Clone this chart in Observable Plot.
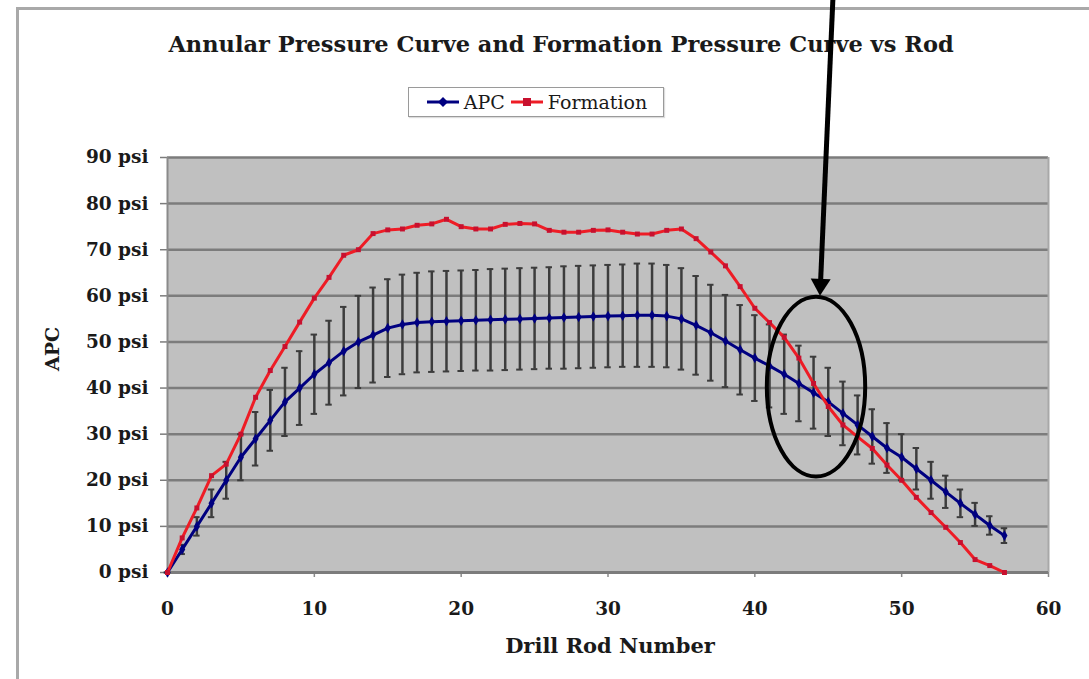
<!DOCTYPE html>
<html>
<head>
<meta charset="utf-8">
<script src="https://cdn.jsdelivr.net/npm/d3@7"></script>
<script src="https://cdn.jsdelivr.net/npm/@observablehq/plot@0.6"></script>
<style>
  html, body { margin: 0; padding: 0; background: #fff; }
  #wrap { position: relative; width: 1089px; height: 679px; overflow: hidden; font-family: "DejaVu Serif", serif; }
  #outer { position: absolute; left: 16px; top: 7px; width: 1200px; height: 800px; border-left: 3px solid #a9a9a9; border-top: 3px solid #a9a9a9; }
  #title { position: absolute; left: 111px; width: 900px; top: 31px; text-align: center; font-weight: bold; font-size: 22.5px; color: #1a1a1a; white-space: nowrap; }
  #legend { position: absolute; left: 408px; top: 87px; width: 254px; height: 28px; border: 1px solid #9a9a9a; background: #fff; display: flex; align-items: center; justify-content: center; gap: 4px; font-family: "DejaVu Serif", serif; font-size: 19px; color: #1a1a1a; box-shadow: 1px 1px 1px #ddd; }
  #legend .item { display: flex; align-items: center; gap: 3px; }
  #plot { position: absolute; left: 0; top: 0; }
</style>
</head>
<body>
<div id="wrap">
  <div id="outer"></div>
  <div id="title">Annular Pressure Curve and Formation Pressure Curve vs Rod</div>
  <div id="legend"></div>
  <div id="plot"></div>
</div>
<script>
// ---- data ----
const rods = [0,1,2,3,4,5,6,7,8,9,10,11,12,13,14,15,16,17,18,19,20,21,22,23,24,25,26,27,28,29,30,31,32,33,34,35,36,37,38,39,40,41,42,43,44,45,46,47,48,49,50,51,52,53,54,55,56,57];
const apc = [0,5,10,15,20,25,29,33,37,40,43,45.5,48,50,51.5,53,53.8,54.2,54.4,54.5,54.6,54.7,54.8,54.9,55,55.1,55.2,55.3,55.4,55.5,55.6,55.7,55.8,55.8,55.6,55,53.6,52,50.2,48.3,46.5,44.8,43,41,39,37,34.5,32,29.5,27,25,22.5,20,17.5,15,12.6,10.2,8];
const apcError = [0,1,2,3,4,5,5.8,6.6,7.4,8,8.6,9.1,9.6,10,10.3,10.6,10.8,10.8,10.9,10.9,10.9,10.9,11,11,11,11,11,11.1,11.1,11.1,11.1,11.1,11.2,11.2,11.1,11,10.7,10.4,10,9.7,9.3,9,8.6,8.2,7.8,7.4,6.9,6.4,5.9,5.4,5,4.5,4,3.5,3,2.5,2,1.6];
const formation = [0,7.5,14,21,23.5,30,38,43.8,49,54.3,59.5,64,68.8,70,73.5,74.3,74.5,75.3,75.6,76.6,75,74.5,74.5,75.5,75.7,75.6,74.2,73.8,73.8,74.2,74.3,73.8,73.4,73.4,74.2,74.5,72.4,69.5,66.5,62,57.3,54.2,51,46.5,41,36,32,29.4,26.9,23.3,20,16.3,13,9.8,6.5,2.8,1.5,0];
const xTicks = [0,10,20,30,40,50,60];
const yTicks = [0,10,20,30,40,50,60,70,80,90];
const seriesNames = ["APC", "Formation"];
const seriesColors = ["#000080", "#ee1c25"];
// annotation (in data units)
const ellipseNote = {x: 44.2, y: 40.2, rx: 3.35, ry: 19.5};
const arrowNote = {x1: 45.36, y1: 125, x2: 44.47, y2: 59.9};

const apcRows = rods.map((r, i) => ({rod: r, value: apc[i], lo: apc[i] - apcError[i], hi: apc[i] + apcError[i]}));
const formRows = rods.map((r, i) => ({rod: r, value: formation[i]}));

function annotationMark(index, scales, values, dimensions) {
  const ns = "http://www.w3.org/2000/svg";
  const g = document.createElementNS(ns, "g");
  const cx = scales.x(ellipseNote.x), cy = scales.y(ellipseNote.y);
  const rx = Math.abs(scales.x(ellipseNote.x + ellipseNote.rx) - cx);
  const ry = Math.abs(scales.y(ellipseNote.y + ellipseNote.ry) - cy);
  const el = document.createElementNS(ns, "ellipse");
  el.setAttribute("cx", cx); el.setAttribute("cy", cy);
  el.setAttribute("rx", rx); el.setAttribute("ry", ry);
  el.setAttribute("fill", "none"); el.setAttribute("stroke", "#000"); el.setAttribute("stroke-width", 4);
  g.appendChild(el);
  const x1 = scales.x(arrowNote.x1), y1 = scales.y(arrowNote.y1);
  const x2 = scales.x(arrowNote.x2), y2 = scales.y(arrowNote.y2);
  const dx = x2 - x1, dy = y2 - y1, len = Math.hypot(dx, dy);
  const ux = dx / len, uy = dy / len, px = -uy, py = ux;
  const hl = 17, hw = 10;
  const bx = x2 - ux * hl, by = y2 - uy * hl;
  const shaft = document.createElementNS(ns, "line");
  shaft.setAttribute("x1", x1); shaft.setAttribute("y1", y1);
  shaft.setAttribute("x2", bx + ux * 2); shaft.setAttribute("y2", by + uy * 2);
  shaft.setAttribute("stroke", "#000"); shaft.setAttribute("stroke-width", 5);
  g.appendChild(shaft);
  const head = document.createElementNS(ns, "path");
  head.setAttribute("d", `M${x2},${y2}L${bx + px * hw},${by + py * hw}L${bx - px * hw},${by - py * hw}Z`);
  head.setAttribute("fill", "#000");
  g.appendChild(head);
  return g;
}

const chart = Plot.plot({
  width: 1089,
  height: 679,
  marginLeft: 167,
  marginRight: 41,
  marginTop: 157,
  marginBottom: 107,
  style: {background: "transparent", overflow: "visible", fontFamily: "DejaVu Serif"},
  x: {domain: [0, 60], axis: null},
  y: {domain: [0, 90], axis: null},
  marks: [
    Plot.frame({fill: "#c0c0c0", stroke: null}),
    Plot.ruleY(yTicks.filter(t => t > 0), {stroke: "#7c7c7c", strokeWidth: 2.5}),
    Plot.ruleX([60], {stroke: "#a8a8a8", strokeWidth: 2}),
    Plot.axisY({ticks: yTicks, tickFormat: d => `${d} psi`, tickSize: 7, tickPadding: 12, fontSize: 18.5, fontWeight: "bold", fill: "#1a1a1a", stroke: "#7c7c7c", strokeWidth: 1.5, label: null}),
    Plot.axisX({ticks: xTicks, tickSize: 5, tickPadding: 24, fontSize: 18.5, fontWeight: "bold", fill: "#1a1a1a", stroke: "#8a8a8a", strokeWidth: 1.5, label: null}),
    Plot.ruleX([0], {stroke: "#8a8a8a", strokeWidth: 2}),
    Plot.ruleY([0], {stroke: "#7c7c7c", strokeWidth: 3}),
    Plot.text(["APC"], {frameAnchor: "left", dx: -115, dy: 6, rotate: -90, fontSize: 19, fontWeight: "bold", fill: "#1a1a1a"}),
    Plot.text(["Drill Rod Number"], {frameAnchor: "bottom", dx: 2, dy: 80, fontSize: 21, fontWeight: "bold", fill: "#1a1a1a"}),
    // error bars
    Plot.ruleX(apcRows, {x: "rod", y1: "lo", y2: "hi", stroke: "#3c3c3c", strokeWidth: 2.5}),
    Plot.ruleY(apcRows, {y: "hi", x1: d => d.rod - 0.22, x2: d => d.rod + 0.22, stroke: "#3c3c3c", strokeWidth: 2}),
    Plot.ruleY(apcRows, {y: "lo", x1: d => d.rod - 0.22, x2: d => d.rod + 0.22, stroke: "#3c3c3c", strokeWidth: 2}),
    // APC
    Plot.line(apcRows, {x: "rod", y: "value", stroke: seriesColors[0], strokeWidth: 3}),
    Plot.dot(apcRows, {x: "rod", y: "value", symbol: "diamond", r: 3.2, fill: seriesColors[0], stroke: null}),
    // Formation
    Plot.line(formRows, {x: "rod", y: "value", stroke: seriesColors[1], strokeWidth: 3}),
    Plot.dot(formRows, {x: "rod", y: "value", symbol: "square", r: 2.8, fill: "#c8102e", stroke: null}),
    annotationMark
  ]
});
document.getElementById("plot").appendChild(chart);

// legend
const legend = document.getElementById("legend");
seriesNames.forEach((name, i) => {
  const item = document.createElement("span");
  item.className = "item";
  const sw = d3.create("svg").attr("width", 36).attr("height", 14);
  sw.append("line").attr("x1", 2).attr("x2", 34).attr("y1", 7).attr("y2", 7).attr("stroke", seriesColors[i]).attr("stroke-width", 3);
  if (i === 0) sw.append("path").attr("d", "M18,2L23,7L18,12L13,7Z").attr("fill", seriesColors[i]);
  else sw.append("rect").attr("x", 14).attr("y", 3).attr("width", 8).attr("height", 8).attr("fill", "#c8102e");
  item.appendChild(sw.node());
  const t = document.createElement("span");
  t.textContent = name;
  item.appendChild(t);
  legend.appendChild(item);
});
</script>
</body>
</html>
